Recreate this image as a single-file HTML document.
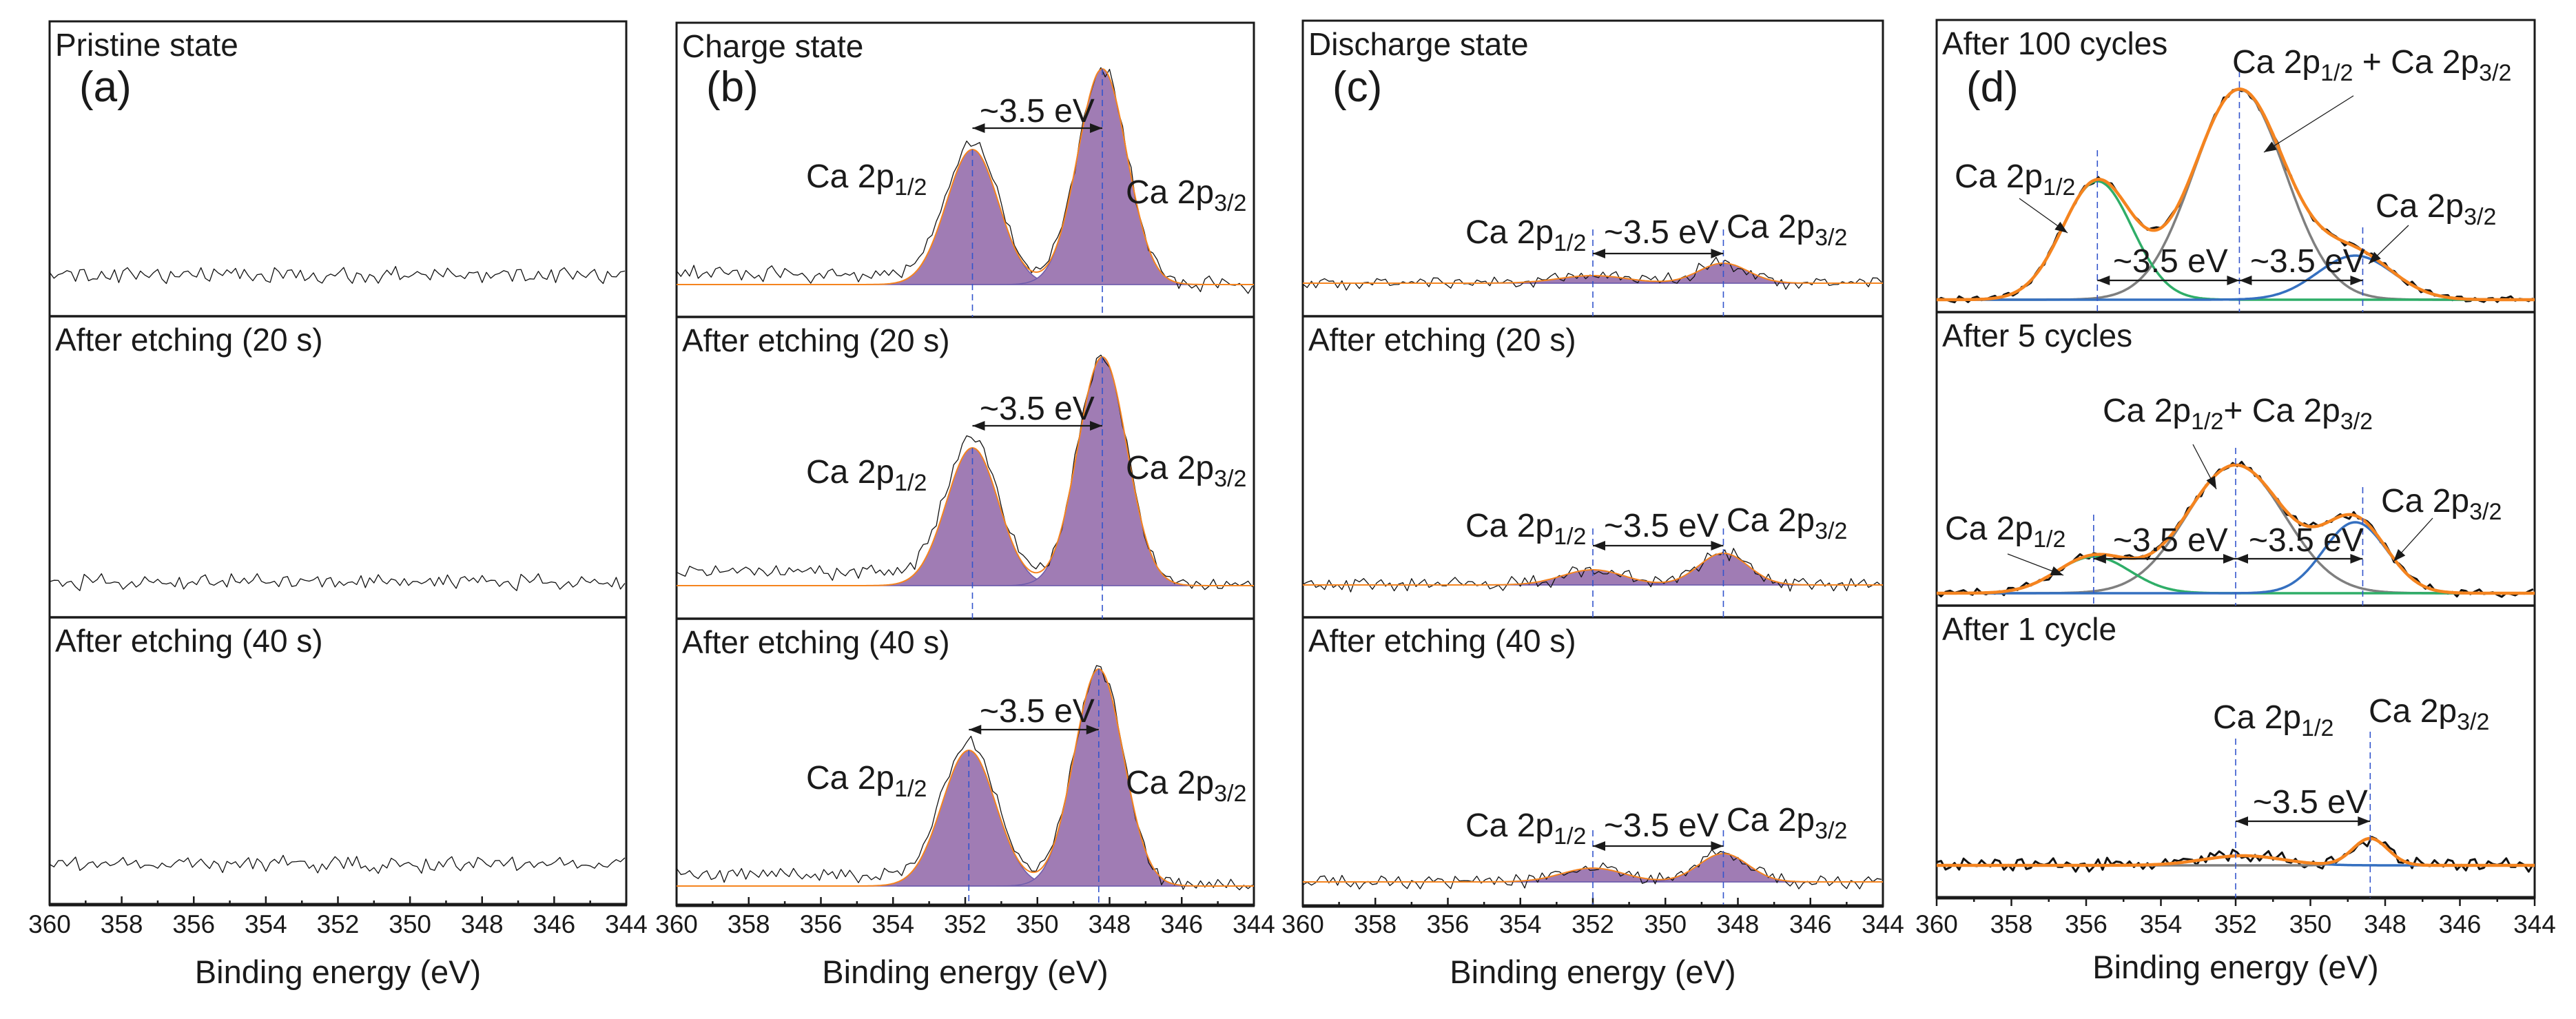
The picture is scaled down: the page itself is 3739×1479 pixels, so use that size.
<!DOCTYPE html>
<html><head><meta charset="utf-8"><title>Ca 2p XPS spectra</title>
<style>
html,body{margin:0;padding:0;background:#fff;}
svg{display:block;}
text{font-family:"Liberation Sans",Arial,sans-serif;fill:#1a1a1a;}
</style></head>
<body>
<svg id="fig" width="3739" height="1479" viewBox="0 0 3739 1479" xmlns="http://www.w3.org/2000/svg"></svg>
<script>
// ---------- data ----------
const energyTicks=[360,358,356,354,352,350,348,346,344];
const energyTickLabels=["360","358","356","354","352","350","348","346","344"];
const noise=[0.3,-0.8,0.5,-0.2,0.6,0.1,-0.9,0.4,0.8,-0.3,0.2,-0.6,0.9,0.0,-0.4,0.5,-0.7,0.3,0.6,-0.2,-0.8,0.7,0.1,-0.5,0.4,0.9,-0.1,-0.6,0.3,0.5,-0.9,0.2,0.7,-0.4,0.0,0.6,-0.3,-0.7,0.8,0.2,-0.5,0.4,-0.1,0.9,-0.6,0.3,0.1,-0.8,0.5,0.7,-0.2,-0.4,0.6,0.0,-0.9,0.8,0.3,-0.3,0.5,-0.6,0.2,0.9,-0.1,-0.7,0.4,0.6,-0.5,0.1,0.8,-0.2,-0.9,0.3,0.7,-0.4,0.2,0.5,-0.8,0.0,0.6,-0.3,0.9,-0.6,0.1,0.4,-0.2,0.7,-0.5,0.3,-0.9,0.8,0.0,-0.4,0.6,0.2,-0.7,0.5,-0.1,0.9,-0.3,0.4,-0.6];
const b1Centers=[351.8,348.2], b1Heights=[196,313], b1Fwhm=[1.7,1.6];
const b2Centers=[351.8,348.2], b2Heights=[200,332], b2Fwhm=[1.7,1.6];
const b3Centers=[351.9,348.3], b3Heights=[197,315], b3Fwhm=[1.75,1.6];
const c1Centers=[352.0,348.4], c1Heights=[11,29], c1Fwhm=[2.2,1.6];
const c2Centers=[352.0,348.4], c2Heights=[22,46], c2Fwhm=[2.0,1.6];
const c3Centers=[352.0,348.4], c3Heights=[20,41], c3Fwhm=[2.0,1.6];
const d1Centers=[351.9,355.7,348.8], d1Heights=[305,172,64], d1Fwhm=[2.9,2.2,2.4];
const d2Centers=[352.0,355.8,348.8], d2Heights=[186,53,103], d2Fwhm=[3.1,2.3,2.0];
const d3Centers=[348.4,351.8], d3Heights=[39,14], d3Fwhm=[1.1,2.5];
const bgSteps=[0,0,0,15,20,16,0,0,0,0,0,0];
const noiseAmps=[13,12,14,12,11,11,11,12,11,5,6,12];

// ---------- layout ----------
const svg=document.getElementById('fig');
const NS='http://www.w3.org/2000/svg';
const panels=[
 {x0:72,x1:909,top:31,axis:1313,subs:[31,459,896],letter:'(a)',out:false},
 {x0:982,x1:1820,top:33,axis:1314,subs:[33,460,898],letter:'(b)',out:false},
 {x0:1891,x1:2733,top:30,axis:1315,subs:[30,459,896],letter:'(c)',out:false},
 {x0:2811,x1:3679,top:29,axis:1303,subs:[29,453,879],letter:'(d)',out:true}];
const subplots=[
 {p:0,s:0,base:400,kind:'raw',c:[],h:[],w:[],title:'Pristine state'},
 {p:0,s:1,base:845,kind:'raw',c:[],h:[],w:[],title:'After etching (20 s)'},
 {p:0,s:2,base:1255,kind:'raw',c:[],h:[],w:[],title:'After etching (40 s)'},
 {p:1,s:0,base:413,kind:'fill',c:b1Centers,h:b1Heights,w:b1Fwhm,title:'Charge state'},
 {p:1,s:1,base:850,kind:'fill',c:b2Centers,h:b2Heights,w:b2Fwhm,title:'After etching (20 s)'},
 {p:1,s:2,base:1286,kind:'fill',c:b3Centers,h:b3Heights,w:b3Fwhm,title:'After etching (40 s)'},
 {p:2,s:0,base:411,kind:'fill',c:c1Centers,h:c1Heights,w:c1Fwhm,title:'Discharge state'},
 {p:2,s:1,base:849,kind:'fill',c:c2Centers,h:c2Heights,w:c2Fwhm,title:'After etching (20 s)'},
 {p:2,s:2,base:1280,kind:'fill',c:c3Centers,h:c3Heights,w:c3Fwhm,title:'After etching (40 s)'},
 {p:3,s:0,base:435,kind:'comp',c:d1Centers,h:d1Heights,w:d1Fwhm,cols:['#7f7f7f','#2fae68','#3570c0'],title:'After 100 cycles'},
 {p:3,s:1,base:861,kind:'comp',c:d2Centers,h:d2Heights,w:d2Fwhm,cols:['#7f7f7f','#2fae68','#3570c0'],title:'After 5 cycles'},
 {p:3,s:2,base:1256,kind:'comp',c:d3Centers,h:d3Heights,w:d3Fwhm,cols:['#7f7f7f','#3570c0'],title:'After 1 cycle'}];

function el(tag,attrs,parent){const e=document.createElementNS(NS,tag);for(const k in attrs)e.setAttribute(k,attrs[k]);(parent||svg).appendChild(e);return e;}
function xs(p,e){return p.x0+(360-e)/16*(p.x1-p.x0);}
function gauss(e,c,h,w){return h*Math.exp(-4*Math.LN2*(e-c)*(e-c)/(w*w));}
function fit(sp,e){let s=0;for(let i=0;i<sp.c.length;i++)s+=gauss(e,sp.c[i],sp.h[i],sp.w[i]);return s;}

panels.forEach((p,pi)=>{
 const frame=el('rect',{x:p.x0,y:p.top,width:p.x1-p.x0,height:p.axis-p.top,fill:'none',stroke:'#1a1a1a','stroke-width':3});
 
 
 [1,2].forEach(k=>{
  const d=el('line',{x1:p.x0,x2:p.x1,y1:p.subs[k],y2:p.subs[k],stroke:'#1a1a1a','stroke-width':3.5});
  
  
 });
 const ax=el('line',{x1:p.x0-1,x2:p.x1+1,y1:p.axis,y2:p.axis,stroke:'#1a1a1a','stroke-width':5});
 
 
 for(let e=360;e>=344;e--){
  const major=(e%2===0);const len=major?12:6;
  const y2=p.out?p.axis+len:p.axis-len;
  const t=el('line',{x1:xs(p,e),x2:xs(p,e),y1:p.axis,y2:y2,stroke:'#1a1a1a','stroke-width':2.5});
  
  
 }
 energyTicks.forEach((v,i)=>{
  const tl=el('text',{x:xs(p,v),y:1354,'font-size':37,'text-anchor':'middle'});
  tl.textContent=energyTickLabels[i];
  
  
 });
 const at=el('text',{x:(p.x0+p.x1)/2,y:p.out?1420:1427,'font-size':47,'text-anchor':'middle'});
 at.textContent='Binding energy (eV)';
 
 
 const lt=el('text',{x:p.x0+43,y:147,'font-size':62});
 lt.textContent=p.letter;
 
 
});

subplots.forEach((sp,si)=>{
 const p=panels[sp.p];
 const bgs=bgSteps[si], amp=noiseAmps[si];
 const g=el('g',{});
 
 
 const ttl=el('text',{x:p.x0+8,y:p.subs[sp.s]+50,'font-size':46},g);
 ttl.textContent=sp.title;
 
 
 if(sp.kind==='fill'){
  sp.c.forEach((c,i)=>{
   let d='';const e0=Math.max(344,c-3.5*sp.w[i]),e1=Math.min(360,c+3.5*sp.w[i]);
   for(let e=e0;e<=e1+1e-9;e+=0.04){d+=(d?'L':'M')+xs(p,e).toFixed(1)+','+(sp.base-gauss(e,c,sp.h[i],sp.w[i])).toFixed(1);}
   d+='L'+xs(p,e1).toFixed(1)+','+sp.base+'L'+xs(p,e0).toFixed(1)+','+sp.base+'Z';
   const f=el('path',{d:d,fill:'#a07cb4',stroke:'#6e5cac','stroke-width':1.5},g);
   
   
  });
 }
 let rd='';let i=0;const n=noise.length;
 for(let e=360;e>=344-1e-9;e-=0.12,i++){
  const bgv=bgs/(1+Math.exp((e-351)/-1.2));
  const nz=0.65*noise[(i+si*13)%n]+0.55*noise[(i*7+si*5)%n];
  const y=sp.base-fit(sp,e)-bgv-amp*nz;
  rd+=(rd?'L':'M')+xs(p,e).toFixed(1)+','+y.toFixed(1);
 }
 const raw=el('path',{d:rd,fill:'none',stroke:'#111','stroke-width':sp.kind==='comp'?3:1.3,'stroke-linejoin':'round'},g);
 
 
 if(sp.kind==='comp'){
  sp.c.forEach((c,k)=>{
   let d='';
   for(let e=360;e>=344-1e-9;e-=0.04){d+=(d?'L':'M')+xs(p,e).toFixed(1)+','+(sp.base-gauss(e,c,sp.h[k],sp.w[k])).toFixed(1);}
   const cl=el('path',{d:d,fill:'none',stroke:sp.cols[k],'stroke-width':3.5},g);
   
   
  });
 }
 if(sp.kind!=='raw'){
  let d='';
  for(let e=360;e>=344-1e-9;e-=0.04){d+=(d?'L':'M')+xs(p,e).toFixed(1)+','+(sp.base-fit(sp,e)).toFixed(1);}
  const env=el('path',{d:d,fill:'none',stroke:'#f5841f','stroke-width':sp.kind==='comp'?4.5:2},g);
  
  
 }
});

function dash(x,y1,y2){const l=el('line',{x1:x,x2:x,y1:y1,y2:y2,stroke:'#3355cc','stroke-width':1.6,'stroke-dasharray':'9,6'});
 
 }
function arrow(x1,y1,x2,y2,both){
 const g=el('g',{});
 
 
 el('line',{x1:x1,y1:y1,x2:x2,y2:y2,stroke:'#1a1a1a','stroke-width':both?2.2:1.3},g);
 const head=(ax,ay,bx,by)=>{const a=Math.atan2(ay-by,ax-bx),L=18,Wd=7;
  const px=ax-L*Math.cos(a),py=ay-L*Math.sin(a);
  el('polygon',{points:`${ax},${ay} ${px-Wd*Math.sin(a)},${py+Wd*Math.cos(a)} ${px+Wd*Math.sin(a)},${py-Wd*Math.cos(a)}`,fill:'#1a1a1a'},g);};
 head(x2,y2,x1,y1); if(both)head(x1,y1,x2,y2);
}
function label(x,y,html,name,size){const t=el('text',{x:x,y:y,'font-size':size||48});t.innerHTML=html;
 
 }
const p12='Ca 2p<tspan dy="11" font-size="34">1/2</tspan>';
const p32='Ca 2p<tspan dy="11" font-size="34">3/2</tspan>';
const ev='~3.5 eV';
const pb=panels[1],pc=panels[2],pd=panels[3];
[[0,217,100,460,272,295,177,186],[1,650,518,898,701,695,609,618],[2,1089,971,1313,1145,1152,1048,1059]].forEach((r,k)=>{
 const sp=subplots[3+k];
 dash(xs(pb,sp.c[0]),r[1],r[3]);dash(xs(pb,sp.c[1]),r[2],r[3]);
 label(1170,r[4],p12,'peak-label-2p12');label(1634,r[5],p32,'peak-label-2p32');
 label(1422,r[6],ev,'splitting-label');arrow(xs(pb,sp.c[0]),r[7],xs(pb,sp.c[1]),r[7],true);
});
[[0,333,459,353,345,368],[1,767,896,779,771,792],[2,1205,1313,1214,1206,1228]].forEach((r,k)=>{
 const sp=subplots[6+k];
 dash(xs(pc,sp.c[0]),r[1],r[2]);dash(xs(pc,sp.c[1]),r[1],r[2]);
 label(2127,r[3],p12,'peak-label-2p12');label(2506,r[4],p32,'peak-label-2p32');
 label(2328,r[3],ev,'splitting-label');arrow(xs(pc,sp.c[0]),r[5],xs(pc,sp.c[1]),r[5],true);
});
dash(xs(pd,d1Centers[1]),218,453);dash(xs(pd,d1Centers[0]),103,453);dash(xs(pd,348.6),330,453);
label(3240,106,p12+'<tspan dy="-11"> + Ca 2p</tspan><tspan dy="11" font-size="34">3/2</tspan>','combined-peak-label');
arrow(3416,139,3286,221,false);
label(2837,272,p12,'peak-label-2p12');arrow(2931,288,3001,338,false);
label(3448,315,p32,'peak-label-2p32');arrow(3496,327,3438,383,false);
label(3067,395,ev,'splitting-label');label(3266,395,ev,'splitting-label');
arrow(xs(pd,d1Centers[1]),407,xs(pd,d1Centers[0]),407,true);arrow(xs(pd,d1Centers[0]),407,xs(pd,348.6),407,true);
dash(xs(pd,d2Centers[1]),747,879);dash(xs(pd,d2Centers[0]),650,879);dash(xs(pd,348.6),707,879);
label(3052,612,p12+'<tspan dy="-11">+ Ca 2p</tspan><tspan dy="11" font-size="34">3/2</tspan>','combined-peak-label');
arrow(3183,645,3217,710,false);
label(2823,783,p12,'peak-label-2p12');arrow(2914,804,2995,835,false);
label(3456,743,p32,'peak-label-2p32');arrow(3531,752,3474,815,false);
label(3067,800,ev,'splitting-label');label(3264,800,ev,'splitting-label');
arrow(xs(pd,d2Centers[1]),811,xs(pd,d2Centers[0]),811,true);arrow(xs(pd,d2Centers[0]),811,xs(pd,348.6),811,true);
dash(xs(pd,352.0),1072,1303);dash(xs(pd,d3Centers[0]),1062,1303);
label(3212,1057,p12,'peak-label-2p12');label(3438,1048,p32,'peak-label-2p32');
label(3270,1180,ev,'splitting-label');arrow(xs(pd,352.0),1192,xs(pd,d3Centers[0]),1192,true);
</script>
</body></html>
